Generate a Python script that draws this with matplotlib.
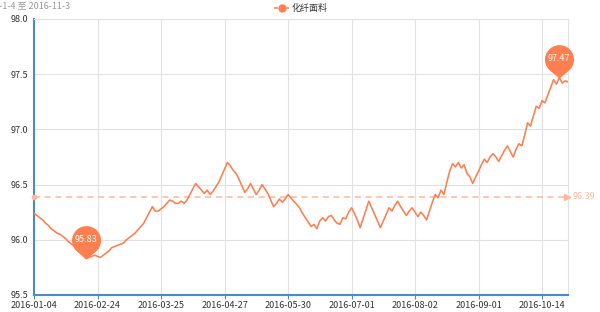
import numpy as np
import matplotlib
matplotlib.use('Agg')
import matplotlib.pyplot as plt
from matplotlib.path import Path
from matplotlib.lines import Line2D

plt.rcParams['font.family'] = ['Noto Sans CJK SC', 'DejaVu Sans']

# data
series_name = '化纤面料'
title_text = '2016-1-4 至 2016-11-3'
tick_labels = ['2016-01-04', '2016-02-24', '2016-03-25', '2016-04-27', '2016-05-30',
               '2016-07-01', '2016-08-02', '2016-09-01', '2016-10-14']
tick_step = 22
y_ticks = [95.5, 96.0, 96.5, 97.0, 97.5, 98.0]
avg_value = 96.39

values = [
    96.24, 96.22, 96.20, 96.18, 96.15, 96.13, 96.10, 96.08, 96.06, 96.05,
    96.03, 96.01, 95.98, 95.96, 95.94, 95.92, 95.89, 95.86, 95.83, 95.84,
    95.85, 95.86, 95.85, 95.84, 95.86, 95.88, 95.90, 95.93, 95.94, 95.95,
    95.96, 95.97, 96.00, 96.02, 96.04, 96.06, 96.09, 96.12, 96.15, 96.20,
    96.25, 96.30, 96.26, 96.26, 96.28, 96.30, 96.33, 96.36, 96.35, 96.33,
    96.33, 96.35, 96.33, 96.36, 96.41, 96.46, 96.51, 96.48, 96.45, 96.42,
    96.45, 96.41, 96.44, 96.48, 96.52, 96.58, 96.64, 96.70, 96.67, 96.63,
    96.60, 96.55, 96.49, 96.43, 96.46, 96.51, 96.46, 96.41, 96.45, 96.50,
    96.46, 96.42, 96.36, 96.30, 96.33, 96.37, 96.34, 96.37, 96.41, 96.38,
    96.35, 96.32, 96.29, 96.24, 96.20, 96.16, 96.12, 96.14, 96.10, 96.17,
    96.20, 96.17, 96.21, 96.22, 96.18, 96.15, 96.14, 96.20, 96.19, 96.25,
    96.29, 96.24, 96.18, 96.11, 96.19, 96.27, 96.35, 96.29, 96.23, 96.17,
    96.11, 96.17, 96.23, 96.29, 96.26, 96.31, 96.35, 96.30, 96.26, 96.22,
    96.26, 96.29, 96.25, 96.21, 96.25, 96.22, 96.18, 96.26, 96.34, 96.41,
    96.38, 96.45, 96.41, 96.52, 96.62, 96.69, 96.66, 96.70, 96.65, 96.68,
    96.60, 96.57, 96.51, 96.57, 96.62, 96.68, 96.73, 96.70, 96.75, 96.78,
    96.75, 96.71, 96.76, 96.81, 96.85, 96.80, 96.75, 96.82, 96.87, 96.85,
    96.95, 97.06, 97.03, 97.12, 97.21, 97.19, 97.26, 97.24, 97.31, 97.38,
    97.45, 97.41, 97.47, 97.42, 97.44, 97.43,
]

line_color = '#ff7f50'
avg_color = '#ffb899'
axis_color = '#4a8bc4'
grid_color = '#e2e2e2'
text_color = '#333333'

fig = plt.figure(figsize=(6, 3.12), dpi=100)
ax = fig.add_axes([34 / 600, 17 / 312, 534 / 600, 276 / 312])

x = np.arange(len(values))
ax.plot(x, values, color=line_color, lw=1.15, zorder=3)
ax.set_xlim(0, len(values) - 1)
ax.set_ylim(y_ticks[0], y_ticks[-1])

xticks = np.arange(len(tick_labels)) * tick_step
ax.set_xticks(xticks, tick_labels)
ax.set_yticks(y_ticks, [f'{v:.1f}' for v in y_ticks])
ax.grid(color=grid_color, lw=0.8)
ax.set_axisbelow(True)

for side in ['left', 'bottom']:
    ax.spines[side].set_color(axis_color)
    ax.spines[side].set_linewidth(1.5)
for side in ['top', 'right']:
    ax.spines[side].set_color(grid_color)
    ax.spines[side].set_linewidth(0.8)

ax.tick_params(axis='x', length=3, width=0.8, color=axis_color, labelsize=6.5,
               labelcolor=text_color, pad=1)
ax.tick_params(axis='y', length=0, labelsize=6.5, labelcolor=text_color, pad=4)

# average line
n = len(values)
ax.plot([0, n - 1], [avg_value, avg_value], color=avg_color, lw=1.1,
        ls=(0, (4, 3)), zorder=2)
ax.plot(0, avg_value, 'o', ms=3, color=avg_color, clip_on=False, zorder=4)
ax.plot(n - 1.3, avg_value, '>', ms=4, color=avg_color, clip_on=False, zorder=4)
ax.annotate(f'{avg_value:.2f}', xy=(n - 1, avg_value), xytext=(3, 0),
            textcoords='offset points', va='center', ha='left', color=avg_color,
            fontsize=6.5, annotation_clip=False)

# pin markers for max / min
r, d = 1.0, 1.3
a = np.degrees(np.arccos(r / d))
arc = Path.arc(-90 + a, 270 - a)
arc_verts = arc.vertices * r + np.array([0, d])
verts = np.vstack([[0, 0], arc_verts, [0, 0]])
codes = [Path.MOVETO, Path.LINETO] + list(arc.codes[1:]) + [Path.CLOSEPOLY]
pin = Path(verts, codes)

for idx in [int(np.argmax(values)), int(np.argmin(values))]:
    v = values[idx]
    ax.plot(idx, v, marker=pin, ms=48, color=line_color, mew=0,
            clip_on=False, zorder=5)
    ax.annotate(f'{v:.2f}', xy=(idx, v), xytext=(0, 13.5), textcoords='offset points',
                ha='center', va='center', color='white', fontsize=6.5, zorder=6)

# legend
ly = 1 - 8 / 312
fig.add_artist(Line2D([274 / 600, 289 / 600], [ly, ly], color=line_color, lw=1.1,
                      ls=(0, (2.5, 1.5))))
fig.add_artist(Line2D([281.5 / 600], [ly], marker='o', ms=5, color=line_color))
fig.text(292 / 600, ly, series_name, ha='left', va='center', fontsize=6.5,
         color=text_color)

# title is partly cut off at the left edge in the original as well
fig.text(70 / 600, 1 - 6 / 312, title_text, ha='right', va='center',
         fontsize=6.5, color='#999999')

fig.savefig('out.png', dpi=100)
